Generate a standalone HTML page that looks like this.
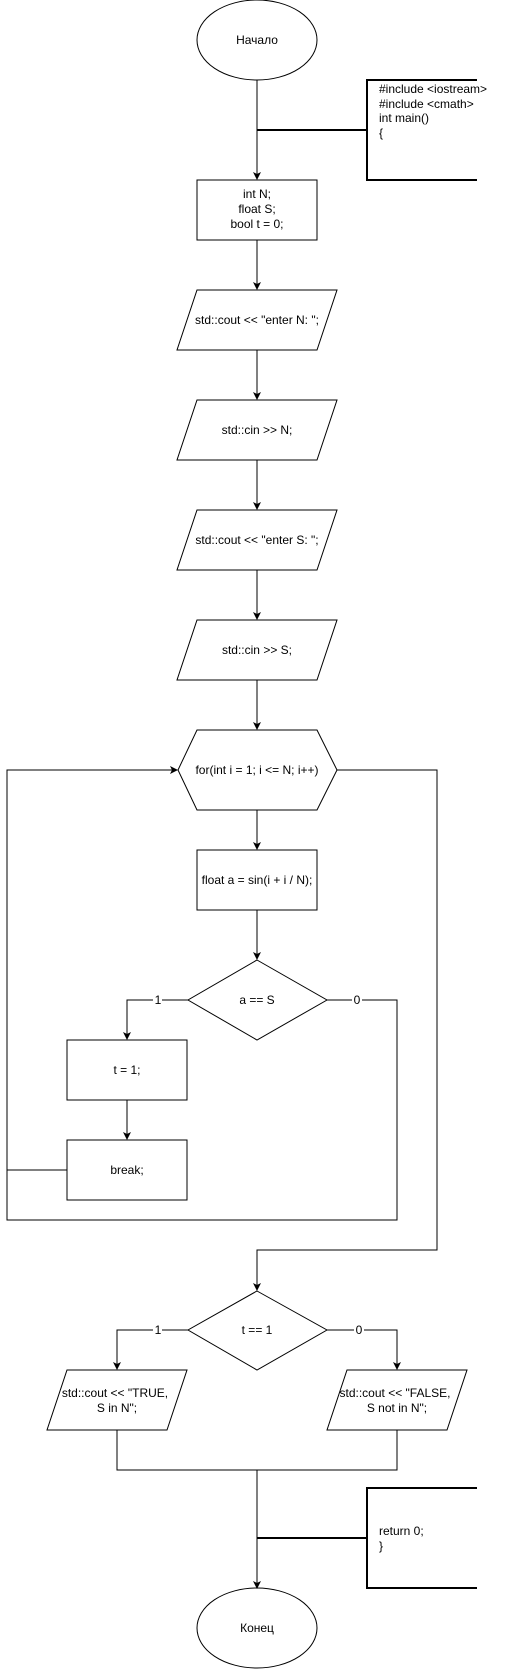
<!DOCTYPE html>
<html><head><meta charset="utf-8"><style>
html,body{margin:0;padding:0;background:#fff;}
svg{display:block;}
text{font-family:"Liberation Sans",Arial,sans-serif;font-size:12px;fill:#000;}
</style></head><body>
<svg width="508" height="1669" viewBox="0 0 508 1669" xmlns="http://www.w3.org/2000/svg">
<defs><marker id="a" markerWidth="8" markerHeight="8" refX="7" refY="4" orient="auto" markerUnits="userSpaceOnUse"><path d="M0,0 L8,4 L0,8 L2,4 Z" fill="#000"/></marker></defs>
<g fill="none" stroke="#000" stroke-width="1">
<ellipse cx="257" cy="40" rx="60" ry="40" fill="#fff"/>
<line x1="257" y1="80" x2="257" y2="179" marker-end="url(#a)"/>
<path d="M257,130 H367 M477,80 H367 V180 H477" stroke-width="2"/>
<rect x="197" y="180" width="120" height="60"/>
<line x1="257" y1="240" x2="257" y2="289" marker-end="url(#a)"/>
<path d="M197,290 H337 L317,350 H177 Z"/>
<line x1="257" y1="350" x2="257" y2="399" marker-end="url(#a)"/>
<path d="M197,400 H337 L317,460 H177 Z"/>
<line x1="257" y1="460" x2="257" y2="509" marker-end="url(#a)"/>
<path d="M197,510 H337 L317,570 H177 Z"/>
<line x1="257" y1="570" x2="257" y2="619" marker-end="url(#a)"/>
<path d="M197,620 H337 L317,680 H177 Z"/>
<line x1="257" y1="680" x2="257" y2="729" marker-end="url(#a)"/>
<path d="M197,730 H317 L337,770 L317,810 H197 L178,770 Z"/>
<line x1="257" y1="810" x2="257" y2="849" marker-end="url(#a)"/>
<rect x="197" y="850" width="120" height="60"/>
<line x1="257" y1="910" x2="257" y2="959" marker-end="url(#a)"/>
<path d="M257,960 L327,1000 L257,1040 L188,1000 Z"/>
<path d="M188,1000 H127 V1039" marker-end="url(#a)"/>
<rect x="67" y="1040" width="120" height="60"/>
<line x1="127" y1="1100" x2="127" y2="1139" marker-end="url(#a)"/>
<rect x="67" y="1140" width="120" height="60"/>
<path d="M67,1170 H7 V770 H177" marker-end="url(#a)"/>
<path d="M327,1000 H397 V1220 H7 V1170"/>
<path d="M337,770 H437 V1250 H257 V1290" marker-end="url(#a)"/>
<path d="M257,1291 L327,1330 L257,1370 L188,1330 Z"/>
<path d="M188,1330 H117 V1369" marker-end="url(#a)"/>
<path d="M327,1330 H397 V1369" marker-end="url(#a)"/>
<path d="M67,1370 H187 L167,1430 H47 Z"/>
<path d="M347,1370 H467 L447,1430 H327 Z"/>
<path d="M117,1430 V1470 H397 V1430 M257,1470 V1588" />
<line x1="257" y1="1540" x2="257" y2="1588" marker-end="url(#a)"/>
<path d="M257,1538 H367 M477,1488 H367 V1588 H477" stroke-width="2"/>
<ellipse cx="257" cy="1628" rx="60" ry="40"/>
</g>
<g fill="#fff"><rect x="153" y="994" width="9" height="12"/><rect x="352" y="994" width="10" height="12"/><rect x="153" y="1324" width="9" height="12"/><rect x="354" y="1324" width="10" height="12"/></g>
<g text-anchor="middle">
<text x="257" y="44">Начало</text>
<text x="257" y="198">int N;</text><text x="257" y="213">float S;</text><text x="257" y="228">bool t = 0;</text>
<text x="257" y="324">std::cout &lt;&lt; "enter N: ";</text>
<text x="257" y="434">std::cin &gt;&gt; N;</text>
<text x="257" y="544">std::cout &lt;&lt; "enter S: ";</text>
<text x="257" y="654">std::cin &gt;&gt; S;</text>
<text x="257" y="774">for(int i = 1; i &lt;= N; i++)</text>
<text x="257" y="884">float a = sin(i + i / N);</text>
<text x="257" y="1004">a == S</text>
<text x="127" y="1074">t = 1;</text>
<text x="127" y="1174">break;</text>
<text x="257" y="1334">t == 1</text>
<text x="115" y="1397">std::cout &lt;&lt; "TRUE,</text><text x="117" y="1412">S in N";</text>
<text x="395" y="1397">std::cout &lt;&lt; "FALSE,</text><text x="397" y="1412">S not in N";</text>
<text x="257" y="1632">Конец</text>
<text x="158" y="1004" font-size="10">1</text>
<text x="357" y="1004" font-size="10">0</text>
<text x="158" y="1334" font-size="10">1</text>
<text x="359" y="1334" font-size="10">0</text>
</g>
<g>
<text x="379" y="93">#include &lt;iostream&gt;</text>
<text x="379" y="108">#include &lt;cmath&gt;</text>
<text x="379" y="122">int main()</text>
<text x="379" y="137">{</text>
<text x="379" y="1535">return 0;</text>
<text x="379" y="1550">}</text>
</g>
</svg>
</body></html>
